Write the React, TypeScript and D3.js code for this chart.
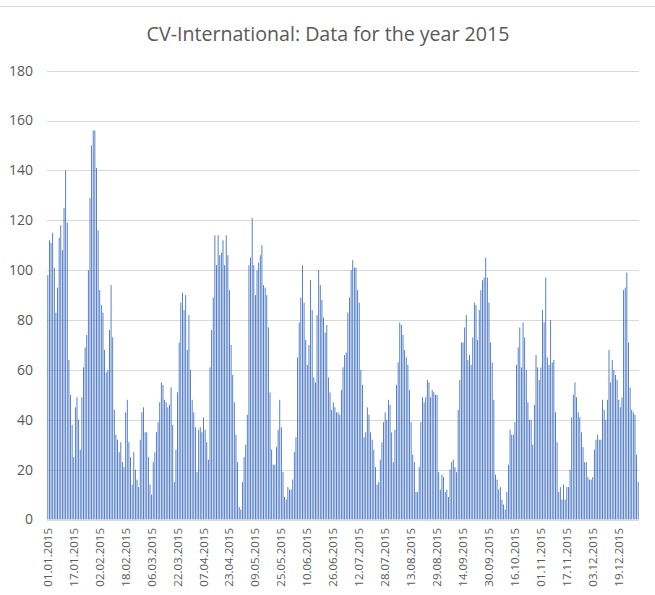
import React from 'react';
import * as d3 from 'd3';

const title = 'CV-International: Data for the year 2015';

const values: number[] = [
  98, 112, 111, 115, 101, 83, 93, 113, 118, 108,
  125, 140, 119, 64, 50, 38, 25, 45, 49, 40,
  28, 49, 61, 69, 74, 100, 129, 150, 156, 156,
  141, 116, 92, 86, 83, 68, 59, 60, 76, 94,
  73, 44, 34, 32, 27,
  31, 23, 21, 43, 48, 31, 25, 14, 27, 20,
  16, 13, 32, 43, 45, 35, 35, 25, 14, 10,
  23, 27, 35, 39, 47, 55, 54, 48, 47, 45,
  46, 53, 38, 15, 28, 51, 71, 87, 91, 84,
  90, 68, 82, 60, 48, 43,
  37, 19, 36, 37, 35, 41, 36, 31, 24, 61,
  76, 89, 114, 102, 114, 106, 107, 112, 102, 114,
  106, 92, 70, 58, 47, 34, 23, 5, 4, 15,
  25, 30, 42, 102, 105, 121, 102, 90, 100, 103,
  106, 110, 94, 93, 90, 77,
  51, 28, 22, 22, 29, 36, 48, 37, 19, 9,
  8, 13, 12, 12, 16, 27, 33, 65, 79, 89,
  102, 87, 72, 62, 70, 96, 84, 57, 55, 82,
  100, 94, 88, 81, 75, 78, 57, 51, 44, 47,
  45, 43, 43, 42, 52, 61,
  66, 67, 83, 89, 100, 104, 101, 101, 92, 87,
  60, 54, 33, 35, 45, 42, 35, 32, 28, 21,
  14, 15, 24, 31, 39, 43, 40, 48, 46, 35,
  23, 36, 54, 63, 79, 78, 74, 68, 65, 62,
  52, 39, 26, 23, 11, 11, 21,
  39, 49, 47, 49, 56, 55, 49, 52, 51, 50,
  50, 19, 12, 18, 17, 11, 12, 9, 20, 23,
  24, 21, 19, 44, 56, 71, 71, 77, 82, 64,
  66, 62, 73, 87, 86, 72, 84, 92, 96, 97,
  105, 97, 87, 71, 63, 48,
  18, 16, 12, 13, 8, 6, 4, 11, 22, 36,
  34, 34, 39, 62, 69, 77, 61, 79, 73, 60,
  47, 40, 40, 30, 46, 66, 61, 56, 61, 84,
  79, 97, 65, 62, 80, 63, 64, 43, 31, 11,
  13, 8, 14, 8, 13, 13,
  20, 41, 50, 55, 49, 43, 41, 35, 29, 23,
  23, 17, 16, 16, 17, 28, 32, 34, 32, 32,
  48, 44, 40, 48, 68, 55, 64, 60, 58, 56,
  48, 45, 49, 92, 93, 99, 71, 53, 44, 43,
  42, 26, 15,
];

const days: Date[] = d3.timeDay.range(new Date(2015, 0, 1), new Date(2016, 0, 1));

const tickLabels: string[] = [
  '01.01.2015', '17.01.2015', '02.02.2015', '18.02.2015', '06.03.2015', '22.03.2015',
  '07.04.2015', '23.04.2015', '09.05.2015', '25.05.2015', '10.06.2015', '26.06.2015',
  '12.07.2015', '28.07.2015', '13.08.2015', '29.08.2015', '14.09.2015', '30.09.2015',
  '16.10.2015', '01.11.2015', '17.11.2015', '03.12.2015', '19.12.2015',
];

const yTicks: number[] = [0, 20, 40, 60, 80, 100, 120, 140, 160, 180];

const fmt = d3.timeFormat('%d.%m.%Y');

export default function App() {
  const W = 655;
  const H = 595;
  const font = "'Open Sans', 'Noto Sans', sans-serif";
  const textColor = '#595959';
  const gridColor = '#d9d9d9';

  const x = d3
    .scaleBand<number>()
    .domain(d3.range(values.length))
    .range([47, 639])
    .paddingInner(0.45)
    .paddingOuter(0.225);
  const y = d3.scaleLinear().domain([0, 180]).range([519.5, 70.7]);

  const ticks = days
    .map((d, i) => ({ i, label: fmt(d) }))
    .filter((t) => tickLabels.includes(t.label));

  return (
    <svg
      width={W}
      height={H}
      style={{ position: 'absolute', left: 0, top: 0, background: '#fff' }}
      fontFamily={font}
    >
      <rect x={0} y={0} width={W} height={H} fill="#fff" />
      <line x1={0} x2={W} y1={6.5} y2={6.5} stroke={gridColor} strokeWidth={1} />
      <text x={328} y={41} textAnchor="middle" fontSize={19.6} fill={textColor}>
        {title}
      </text>
      {yTicks.map((t) => (
        <g key={t}>
          <line x1={47} x2={639} y1={Math.round(y(t)) + 0.5} y2={Math.round(y(t)) + 0.5} stroke={gridColor} strokeWidth={1} />
          <text x={33} y={y(t)} dy="0.35em" textAnchor="end" fontSize={14} fill={textColor}>
            {t}
          </text>
        </g>
      ))}
      <g>
        {values.map((v, i) => (
          <rect
            key={i}
            x={x(i)}
            width={x.bandwidth()}
            y={y(v)}
            height={y(0) - y(v)}
            fill="#4472C4"
          />
        ))}
      </g>
      {ticks.map((t) => {
        const cx = (x(t.i) as number) + x.bandwidth() / 2;
        return (
          <text
            key={t.label}
            transform={`translate(${cx + 4},528) rotate(-90)`}
            textAnchor="end"
            fontSize={11.5}
            fill={textColor}
          >
            {t.label}
          </text>
        );
      })}
    </svg>
  );
}
